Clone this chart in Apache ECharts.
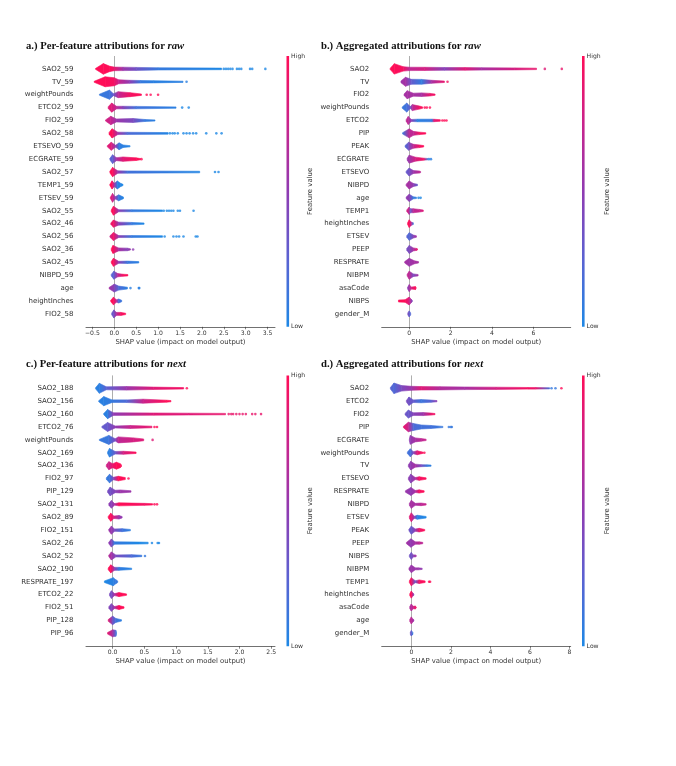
<!DOCTYPE html>
<html><head><meta charset="utf-8">
<style>html,body{margin:0;padding:0;background:#fff}#c{width:676px;height:766px}</style>
<script src="https://cdn.jsdelivr.net/npm/echarts@6/dist/echarts.min.js"></script>
</head><body><div id="c"></div>
<script>
// Knots per feature: [SHAP value, half thickness (px-like swarm density), feature value 0..1]
const featuresA=['SAO2_59','TV_59','weightPounds','ETCO2_59','FIO2_59','SAO2_58','ETSEVO_59','ECGRATE_59','SAO2_57','TEMP1_59','ETSEV_59','SAO2_55','SAO2_46','SAO2_56','SAO2_36','SAO2_45','NIBPD_59','age','heightInches','FIO2_58'];
const ticksA=[-0.5,0,0.5,1,1.5,2,2.5,3,3.5];
const swarmA=[
[[-0.43,0.4,1],[-0.25,5.3,1],[-0.1,2.6,1],[0,1.8,0.9],[0.2,1.7,0.55],[0.5,1.5,0.35],[1,1.1,0.1],[2.45,0.8,0]],
[[-0.46,0.5,1],[-0.21,5,1],[0,4,0.95],[0.1,2,0.75],[0.35,1.5,0.5],[0.6,1.3,0.1],[0.9,1.1,0.05],[1.57,0.6,0.05]],
[[-0.34,0.5,0.1],[-0.11,4.6,0.12],[-0.02,1,0.3],[0.09,3,0.7],[0.36,2,0.95],[0.62,0.7,1]],
[[-0.14,0.8,0.85],[-0.06,4.6,0.85],[0.05,1.3,0.7],[0.2,1.3,0.45],[0.5,1.2,0.15],[1.41,0.7,0.05]],
[[-0.2,0.6,0.8],[-0.08,4.2,0.75],[0.05,1.5,0.55],[0.43,2,0.4],[0.7,1,0.1],[0.93,0.6,0.05]],
[[-0.12,0.9,1],[-0.05,4.6,1],[0.08,1.2,0.6],[0.3,1.1,0.2],[1.23,0.8,0.02]],
[[-0.16,0.6,0.85],[-0.07,4,0.85],[0.03,1,0.5],[0.11,3.4,0.08],[0.2,1.3,0.05],[0.36,0.6,0.03]],
[[-0.1,0.8,0.25],[-0.04,4.4,0.25],[0.05,1.5,0.6],[0.2,2.2,0.85],[0.5,1.3,1],[0.6,0.6,1]],
[[-0.1,0.9,1],[-0.04,4.6,1],[0.08,1.2,0.55],[0.3,1.1,0.15],[1.95,0.8,0.02]],
[[-0.1,0.7,1],[-0.05,4.1,1],[0,1.6,0.6],[0.07,4,0.05],[0.15,1.5,0.02],[0.2,0.6,0]],
[[-0.09,0.6,0.85],[-0.04,4.4,0.8],[0.02,1.1,0.5],[0.1,3,0.1],[0.21,0.8,0.02]],
[[-0.07,0.8,1],[-0.02,4.4,1],[0.1,1,0.5],[0.4,1,0.1],[1.1,0.8,0]],
[[-0.08,0.6,0.9],[-0.02,3.6,0.95],[0.1,1.5,0.5],[0.4,1.2,0.1],[0.68,0.7,0]],
[[-0.1,0.7,0.75],[-0.02,4,0.95],[0.1,1,0.5],[0.4,1,0.1],[1.1,0.8,0]],
[[-0.07,0.8,1],[-0.03,4,1],[0.1,1.5,0.6],[0.3,1.3,0.45],[0.37,0.6,0.55]],
[[-0.07,0.7,1],[-0.02,4,1],[0.1,1,0.5],[0.3,1.2,0.12],[0.56,0.7,0.05]],
[[-0.07,0.8,0.25],[-0.01,4,0.25],[0.08,1.6,0.7],[0.2,1,0.95],[0.31,0.7,1]],
[[-0.12,0.6,0.6],[0,4,0.45],[0.1,2,0.2],[0.3,0.9,0.05]],
[[-0.08,0.8,1],[-0.02,3.8,1],[0.05,1.2,0.7],[0.1,2,0.2],[0.17,0.7,0.1]],
[[-0.06,0.8,0.3],[-0.01,4,0.35],[0.05,1.5,0.65],[0.15,1.5,0.95],[0.26,0.7,1]]
];
const dotsA=[[2.5,0,0],[2.55,0,0],[2.6,0,0],[2.65,0,0],[2.7,0,0],[2.8,0,0],[2.85,0,0],[2.9,0,0],[3.1,0,0],[3.15,0,0],[3.45,0,0],[1.65,1,0.05],[0.74,2,1],[0.83,2,1],[1.0,2,1],[1.55,3,0],[1.7,3,0],[1.27,5,0],[1.33,5,0],[1.38,5,0],[1.45,5,0],[1.58,5,0],[1.65,5,0],[1.72,5,0],[1.8,5,0],[1.87,5,0],[2.1,5,0],[2.33,5,0],[2.45,5,0],[0.62,7,1],[2.3,8,0],[2.38,8,0],[1.13,11,0],[1.2,11,0],[1.25,11,0],[1.3,11,0],[1.35,11,0],[1.45,11,0],[1.5,11,0],[1.81,11,0],[1.15,13,0],[1.35,13,0],[1.42,13,0],[1.48,13,0],[1.58,13,0],[1.86,13,0],[1.9,13,0],[0.43,14,0.5],[0.37,17,0.05],[0.56,17,0.05],[0.57,17,0.05]];

const featuresB=['SAO2','TV','FIO2','weightPounds','ETCO2','PIP','PEAK','ECGRATE','ETSEVO','NIBPD','age','TEMP1','heightInches','ETSEV','PEEP','RESPRATE','NIBPM','asaCode','NIBPS','gender_M'];
const ticksB=[0,2,4,6];
const swarmB=[
[[-0.92,0.6,1],[-0.72,5.2,1],[-0.29,2.2,0.95],[0,1.7,0.7],[0.75,1.6,0.8],[1.7,1.4,0.45],[2.7,1.3,0.85],[3.5,1.2,0.6],[5.1,1,0.8],[6.15,0.7,0.9]],
[[-0.4,0.9,0.55],[-0.18,4.5,0.6],[0.1,2.5,0.3],[0.6,2.4,0.08],[1.08,1.5,0.6],[1.7,0.7,0.9]],
[[-0.25,0.7,0.6],[-0.1,4,0.6],[0.2,1.5,0.6],[0.6,1.8,0.6],[1,1.3,0.9],[1.25,0.6,0.95]],
[[-0.34,0.6,0.1],[-0.12,4.5,0.15],[0.05,1,0.3],[0.15,3,0.65],[0.5,1.5,0.95],[0.65,0.7,1]],
[[-0.15,0.8,0.7],[-0.05,4,0.7],[0.1,1,0.5],[0.4,1.3,0.05],[1.1,1.3,0.1],[1.2,1.2,0.85],[1.5,0.8,1]],
[[-0.32,0.7,0.1],[0,4.5,0.7],[0.2,2,0.7],[0.5,1.2,0.95],[0.8,0.7,1]],
[[-0.2,0.8,0.2],[-0.03,4,0.35],[0.2,2,0.7],[0.5,1.3,0.95],[0.7,0.7,1]],
[[-0.1,1,0.55],[0,4,0.55],[0.3,2,0.8],[0.7,1,0.95],[0.9,0.7,0.1]],
[[-0.15,0.8,0.3],[0,4,0.35],[0.2,1.5,0.55],[0.5,1,0.7],[0.55,0.6,0.7]],
[[-0.15,0.8,0.6],[0,4,0.6],[0.2,1.5,0.5],[0.4,0.7,0.3]],
[[-0.15,0.8,0.5],[0,3.6,0.5],[0.2,1,0.1],[0.35,0.7,0.05]],
[[-0.12,0.8,0.8],[0,3.7,0.7],[0.05,2,0.3],[0.2,2,0.7],[0.5,1.3,0.75],[0.68,0.7,0.85]],
[[-0.08,0.8,1],[0,3.8,1],[0.1,1.5,0.7],[0.2,0.9,0.1]],
[[-0.12,0.8,0.25],[0,3.8,0.2],[0.2,1.5,0.45],[0.35,0.7,0.6]],
[[-0.12,0.9,0.4],[0,4,0.4],[0.2,1.5,0.6],[0.35,1,0.85],[0.4,0.6,0.9]],
[[-0.22,0.7,0.6],[0,4,0.55],[0.25,1.5,0.6],[0.45,0.7,0.6]],
[[-0.1,0.9,0.7],[0,4,0.7],[0.2,1.3,0.4],[0.43,0.7,0.6]],
[[-0.08,0.8,0.5],[0,3.5,0.55],[0.1,1,0.8],[0.3,1.5,1],[0.33,0.6,1]],
[[-0.52,1,1],[-0.2,1.3,1],[0,4,0.8],[0.08,2,0.6],[0.15,0.7,0.4]],
[[-0.07,1,0.4],[0,3,0.3],[0.07,1,0.2]]
];
const dotsB=[[6.55,0,0.85],[7.37,0,0.9],[1.85,1,0.95],[0.75,3,1],[0.85,3,1],[1.0,3,1],[1.6,4,1],[1.7,4,1],[1.8,4,1],[0.95,7,0.05],[1.05,7,0.05],[0.45,10,0],[0.55,10,0]];

const featuresC=['SAO2_188','SAO2_156','SAO2_160','ETCO2_76','weightPounds','SAO2_169','SAO2_136','FIO2_97','PIP_129','SAO2_131','SAO2_89','FIO2_151','SAO2_26','SAO2_52','SAO2_190','RESPRATE_197','ETCO2_22','FIO2_51','PIP_128','PIP_96'];
const ticksC=[0,0.5,1,1.5,2,2.5];
const swarmC=[
[[-0.27,0.5,0.05],[-0.21,5,0.05],[-0.1,1.5,0.25],[0.22,1.8,0.55],[0.64,1.2,0.85],[1.12,0.7,0.95]],
[[-0.22,0.5,0.05],[-0.14,4.6,0.05],[-0.01,1.3,0.1],[0.22,1.3,0.2],[0.48,2,0.75],[0.85,1,1],[0.92,0.6,1]],
[[-0.14,0.6,0.05],[-0.08,4.6,0.05],[0.01,1.3,0.5],[0.65,1.1,0.85],[1.2,0.9,0.85],[1.78,0.7,0.9]],
[[-0.17,0.6,0.3],[-0.08,4.5,0.3],[0.04,1,0.5],[0.28,1.5,0.75],[0.62,0.8,0.9]],
[[-0.21,0.5,0.1],[-0.06,4.5,0.12],[0.04,1.2,0.4],[0.09,3,0.7],[0.33,2,0.8],[0.49,0.9,0.85]],
[[-0.08,0.8,0.05],[-0.05,4.3,0.05],[0.04,1.3,0.3],[0.17,1.5,0.8],[0.37,0.7,1]],
[[-0.1,0.8,0.8],[-0.06,4,0.75],[0,2,0.9],[0.06,3.5,1],[0.12,2,1],[0.14,0.7,1]],
[[-0.1,0.7,0.1],[-0.05,4.3,0.1],[0.01,1.3,0.4],[0.09,2.3,1],[0.2,1,1]],
[[-0.08,0.7,0.4],[-0.04,4.3,0.35],[0.04,1.2,0.45],[0.12,1.5,0.55],[0.29,0.7,0.55]],
[[-0.06,0.8,0.5],[-0.02,3.8,0.45],[0.03,0.8,0.6],[0.1,1.5,1],[0.5,1,0.95],[0.63,0.7,1]],
[[-0.07,0.8,1],[-0.03,4,1],[0.02,1.2,0.8],[0.1,1.8,0.55],[0.15,0.7,0.5]],
[[-0.06,0.8,0.55],[-0.02,4,0.55],[0.03,1.2,0.4],[0.15,1.5,0.15],[0.28,0.7,0.05]],
[[-0.06,0.8,0.5],[-0.02,4,0.45],[0.03,1.2,0.1],[0.4,1,0],[0.56,0.8,0]],
[[-0.06,0.8,0.65],[-0.02,4,0.6],[0.05,1,0.4],[0.3,1.3,0.2],[0.46,0.7,0.1]],
[[-0.07,0.8,1],[-0.03,4,1],[0.03,1.5,0.5],[0.1,1.5,0.08],[0.3,0.7,0.03]],
[[-0.13,0.8,0],[0.01,4,0.05],[0.05,2,0.1],[0.08,0.8,0.1]],
[[-0.05,0.8,0.4],[-0.02,3.8,0.35],[0.03,1,0.6],[0.1,2,1],[0.22,0.7,1]],
[[-0.06,0.8,0.45],[-0.02,3.8,0.4],[0.03,1,0.6],[0.1,2,1],[0.18,0.7,1]],
[[-0.07,0.8,0.9],[0,4.3,0.35],[0.05,2,0.15],[0.14,0.7,0.05]],
[[-0.08,0.8,0.9],[0,3.5,0.6],[0.05,3,0.2],[0.06,0.8,0.1]]
];
const dotsC=[[1.17,0,1],[1.83,2,0.9],[1.87,2,0.9],[1.9,2,0.9],[1.95,2,0.9],[2.0,2,0.9],[2.05,2,0.9],[2.1,2,0.9],[2.2,2,0.9],[2.25,2,0.9],[2.34,2,0.9],[0.66,3,1],[0.7,3,1],[0.63,4,0.85],[0.25,7,1],[0.66,9,1],[0.7,9,1],[0.62,12,0],[0.71,12,0],[0.73,12,0],[0.51,13,0.1]];

const featuresD=['SAO2','ETCO2','FIO2','PIP','ECGRATE','weightPounds','TV','ETSEVO','RESPRATE','NIBPD','ETSEV','PEAK','PEEP','NIBPS','NIBPM','TEMP1','heightInches','asaCode','age','gender_M'];
const ticksD=[0,2,4,6,8];
const swarmD=[
[[-1.06,0.7,0.25],[-0.88,5.3,0.2],[-0.5,2.8,0.4],[0,2,0.55],[0.5,1.7,0.85],[1.45,1.6,0.65],[2.7,1.3,0.6],[4.3,1.1,0.8],[5.9,0.8,0.95],[6.3,0.8,0.9],[7,0.6,0.15]],
[[-0.25,0.7,0.4],[-0.12,4.2,0.35],[0.1,1.3,0.3],[0.5,1.6,0.12],[1,1.1,0.25],[1.3,0.6,0.5]],
[[-0.32,0.7,0.35],[-0.15,4,0.3],[0.1,1.3,0.45],[0.6,1.5,0.55],[1,1,0.9],[1.2,0.6,0.95]],
[[-0.4,0.7,0.9],[-0.15,4.8,0.75],[0.1,3.5,0.2],[0.5,2,0.15],[1,1.5,0.15],[1.6,0.6,0.1]],
[[-0.1,0.9,0.5],[-0.05,4.4,0.5],[0.2,2,0.6],[0.5,1.3,0.7],[0.75,0.7,0.75]],
[[-0.2,0.7,0.15],[-0.05,4,0.15],[0.1,1,0.4],[0.3,2,0.85],[0.5,1,0.95],[0.6,0.6,1]],
[[-0.15,0.9,0.5],[-0.03,4.3,0.5],[0.2,1.5,0.6],[0.5,1,0.4],[0.8,0.8,0.1],[1,0.6,0.05]],
[[-0.15,0.9,0.5],[-0.03,4.4,0.45],[0.2,1,0.6],[0.4,1.8,0.95],[0.75,0.7,1]],
[[-0.3,0.7,0.55],[-0.02,4,0.5],[0.2,1,0.6],[0.4,1.6,0.95],[0.65,0.7,1]],
[[-0.1,0.9,0.6],[0,4,0.6],[0.2,1,0.6],[0.5,1.3,0.7],[0.75,0.7,0.75]],
[[-0.1,0.9,0.85],[0,4.4,0.85],[0.15,1,0.5],[0.3,2,0.05],[0.75,0.8,0]],
[[-0.12,0.9,0.35],[0,4,0.3],[0.2,1.2,0.5],[0.4,1.8,0.9],[0.68,0.7,1]],
[[-0.25,0.6,0.6],[-0.02,4.2,0.5],[0.2,1.2,0.6],[0.4,1.2,0.7],[0.58,0.7,0.7]],
[[-0.1,0.9,0.35],[0,3.5,0.35],[0.1,1,0.45],[0.2,1,0.55],[0.25,0.6,0.6]],
[[-0.12,0.9,0.55],[0,3.8,0.55],[0.2,1,0.55],[0.35,1,0.55],[0.55,0.6,0.5]],
[[-0.1,0.9,1],[0,4,0.95],[0.2,1,0.3],[0.4,1.8,0.95],[0.7,0.8,1]],
[[-0.08,0.9,1],[0,3.5,1],[0.1,1,0.6],[0.13,0.6,0.4]],
[[-0.08,0.9,0.65],[0,3.5,0.65],[0.1,1.2,0.75],[0.2,1.5,0.9],[0.25,0.6,0.95]],
[[-0.08,0.9,0.7],[0,3.5,0.7],[0.1,1,0.6],[0.13,0.6,0.5]],
[[-0.05,1,0.35],[0,2.7,0.3],[0.08,0.9,0.05]]
];
const dotsD=[[7.1,0,0.1],[7.3,0,0.1],[7.6,0,1],[1.9,3,0.1],[2.0,3,0.1],[2.05,3,0.1],[0.66,5,1],[0.9,15,1],[0.95,15,1]];

const titlesAll=[['a.) Per-feature attributions for ','raw'],['b.) Aggregated attributions for ','raw'],['c.) Per-feature attributions for ','next'],['d.) Aggregated attributions for ','next']];
const axisLabel='SHAP value (impact on model output)';
const colorStops=['#1e88e5','#5a62d2','#8f3bb2','#c9238c','#ff0d57'];

const panels=[
 {f:featuresA,t:ticksA,s:swarmA,d:dotsA,min:-0.646,max:3.67,dec:1,left:86,top:56,barL:286.5,tTop:41,nGap:18},
 {f:featuresB,t:ticksB,s:swarmB,d:dotsB,min:-1.33,max:7.8,dec:0,left:381.7,top:56,barL:582,tTop:41,nGap:19},
 {f:featuresC,t:ticksC,s:swarmC,d:dotsC,min:-0.42,max:2.56,dec:1,left:86,top:375.4,barL:286.5,tTop:358.5,nGap:18},
 {f:featuresD,t:ticksD,s:swarmD,d:dotsD,min:-1.5,max:8.07,dec:0,left:381.7,top:375.4,barL:582,tTop:358.5,nGap:19}
];
const W=189,H=270.8,rowPx=H/21;
const col=c=>echarts.color.lerp(c,colorStops);
const txt='#333333';
const grid=[],xAxis=[],yAxis=[],series=[],title=[];
panels.forEach((p,i)=>{
  const gi=i*2, gb=i*2+1;
  grid.push({left:p.left,top:p.top,width:W,height:H});
  grid.push({left:p.barL,top:p.top,width:2.6,height:H});
  const fmt=v=>v.toFixed(p.dec).replace('-','\u2212');
  xAxis.push({gridIndex:gi,type:'value',min:p.min,max:p.max,splitLine:{show:false},
    name:axisLabel,nameLocation:'middle',nameGap:12,nameTextStyle:{color:txt,fontFamily:'DejaVu Sans',fontSize:6.9},
    axisLine:{show:true,onZero:false,lineStyle:{color:'#333',width:0.7}},
    axisTick:{show:true,length:2.5,customValues:p.t,lineStyle:{color:'#333',width:0.6}},
    axisLabel:{customValues:p.t,formatter:fmt,color:txt,fontFamily:'DejaVu Sans',fontSize:6.1,margin:3.5}});
  yAxis.push({gridIndex:gi,type:'value',inverse:true,min:-1,max:20,interval:1,splitLine:{show:false},
    axisLine:{show:false},axisTick:{show:false},
    axisLabel:{formatter:v=>p.f[v]||'',color:txt,fontFamily:'DejaVu Sans',fontSize:7,margin:12.5,showMinLabel:true,showMaxLabel:true}});
  xAxis.push({gridIndex:gb,type:'category',data:[''],show:false,boundaryGap:true});
  yAxis.push({gridIndex:gb,type:'value',min:0,max:1,interval:1,position:'right',splitLine:{show:false},
    axisLine:{show:false},axisTick:{show:false},
    name:'Feature value',nameLocation:'middle',nameRotate:90,nameGap:p.nGap,nameMoveOverlap:false,nameTextStyle:{color:txt,fontFamily:'DejaVu Sans',fontSize:6.9},
    axisLabel:{formatter:v=>v===1?'High':'Low',color:txt,fontFamily:'DejaVu Sans',fontSize:6.1,margin:2}});
  // segments between consecutive knots
  const segs=[];
  p.s.forEach((k,row)=>{for(let j=0;j<k.length-1;j++)segs.push([row,k[j][0],k[j][1],k[j][2],k[j+1][0],k[j+1][1],k[j+1][2]]);});
  series.push({type:'custom',xAxisIndex:gi,yAxisIndex:gi,silent:true,clip:false,data:segs,z:3,
    encode:{x:[1,4],y:0},
    renderItem:(params,api)=>{
      const r=api.value(0),x0=api.value(1),h0=api.value(2)/rowPx,c0=api.value(3),x1=api.value(4),h1=api.value(5)/rowPx,c1=api.value(6);
      const pts=[[x0,r-h0],[x1,r-h1],[x1,r+h1],[x0,r+h0]].map(q=>api.coord(q));
      const g=new echarts.graphic.LinearGradient(0,0,1,0,[{offset:0,color:col(c0)},{offset:1,color:col(c1)}]);
      return {type:'polygon',shape:{points:pts},style:{fill:g,stroke:g,lineWidth:0.6,lineJoin:'round'}};
    }});
  series.push({type:'scatter',xAxisIndex:gi,yAxisIndex:gi,silent:true,data:p.d.map(d=>[d[0],d[1],d[2]]),symbolSize:2.6,z:3,
    itemStyle:{color:q=>col(q.data[2])},
    markLine:{silent:true,symbol:'none',animation:false,label:{show:false},lineStyle:{color:'#999',width:0.8,type:'solid'},data:[{xAxis:0}],z:1}});
  series.push({type:'bar',xAxisIndex:gb,yAxisIndex:gb,silent:true,barWidth:'100%',data:[1],
    itemStyle:{color:new echarts.graphic.LinearGradient(0,1,0,0,colorStops.map((c,n)=>({offset:n/(colorStops.length-1),color:c})))}});
  const [a,b]=titlesAll[i];
  title.push({left:i%2?321:26,top:p.tTop,padding:0,text:'{b|'+a+'}{i|'+b+'}',textStyle:{rich:{
    b:{fontFamily:'Liberation Serif',fontWeight:'bold',fontSize:10.7,color:'#111'},
    i:{fontFamily:'Liberation Serif',fontWeight:'bold',fontStyle:'italic',fontSize:10.7,color:'#111'}}}});
});
const chart=echarts.init(document.getElementById('c'),null,{renderer:'canvas',width:676,height:766});
chart.setOption({animation:false,backgroundColor:'#fff',title,grid,xAxis,yAxis,series});
</script></body></html>
